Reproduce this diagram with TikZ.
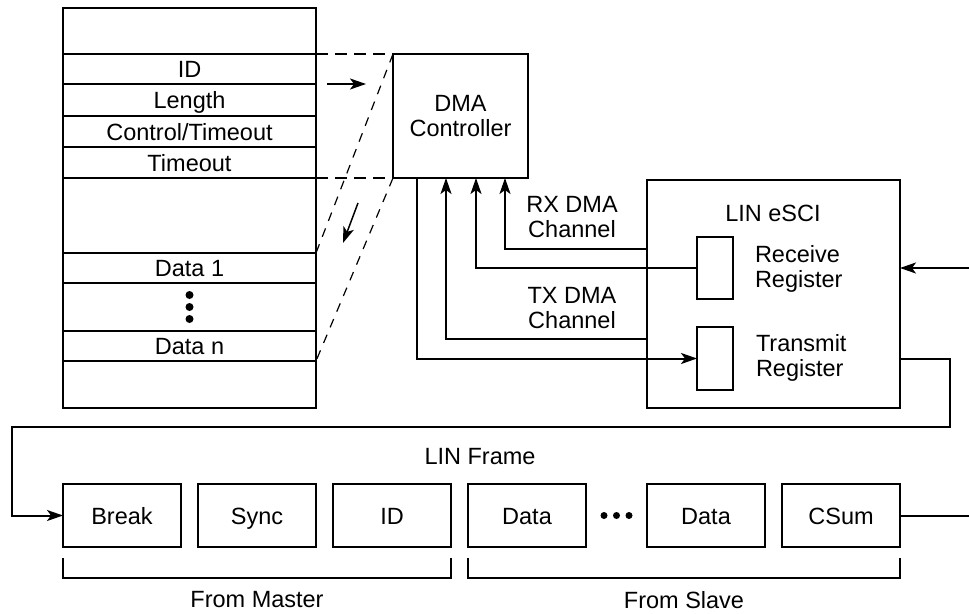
\documentclass[tikz,border=0pt]{standalone}
\usepackage{fontspec}
\setmainfont{Liberation Sans}
\usetikzlibrary{arrows.meta,positioning}

\begin{document}
\begin{tikzpicture}[
  x=1pt,y=-1pt,
  line width=2pt,
  font=\fontsize{23.5}{25}\selectfont,
  node distance=17pt,
  row/.style={draw,minimum width=253pt,inner sep=0pt,outer sep=0pt,text height=17pt,text depth=0pt},
  box/.style={draw,inner sep=0pt,outer sep=0pt},
  reg/.style={draw,minimum width=36pt,minimum height=62pt,inner sep=0pt,outer sep=0pt},
  fbox/.style={draw,minimum width=118pt,minimum height=63pt,inner sep=0pt,outer sep=0pt,text height=17pt,text depth=0pt},
  txt/.style={inner sep=0pt,outer sep=0pt,align=center},
  ar/.style={-{Stealth[length=16pt,width=11pt,inset=4pt]}},
  dsh/.style={dash pattern=on 12pt off 7pt},
  dshthin/.style={line width=1.2pt,dash pattern=on 9pt off 8pt}
]
\useasboundingbox (0,0) rectangle (969,613);

% memory layout
\node[row,minimum height=46pt] (mtop) at (189.5,31) {};
\node[row,minimum height=30pt,below=0pt of mtop] (mid) {ID};
\node[row,minimum height=32pt,below=0pt of mid] (mlen) {Length};
\node[row,minimum height=31pt,below=0pt of mlen] (mctl) {Control/Timeout};
\node[row,minimum height=31pt,below=0pt of mctl] (mtmo) {Timeout};
\node[row,minimum height=75pt,below=0pt of mtmo] (mgap) {};
\node[row,minimum height=30pt,below=0pt of mgap] (md1) {Data 1};
\node[row,minimum height=48pt,below=0pt of md1] (mdots) {};
\node[row,minimum height=30pt,below=0pt of mdots] (mdn) {Data n};
\node[row,minimum height=47pt,below=0pt of mdn] (mbot) {};
\foreach \d in {-12,0,12}
  \fill ([yshift=\d pt]mdots.center) circle (4pt);

% DMA controller
\node[box,minimum width=135pt,minimum height=124pt,align=center] (dma) at (460.5,116) {DMA\\Controller};
\draw[dsh] (mid.north east) -- (dma.north west);
\draw[dsh] (mtmo.south east) -- (dma.south west);
\draw[dshthin] (dma.north west) -- (md1.north east);
\draw[dshthin] (dma.south west) -- (mdn.south east);
\draw[ar] ([xshift=11pt]mid.south east) -- ([xshift=50pt]mid.south east);
\draw[ar,line width=1.5pt] ([xshift=42pt,yshift=-25pt]mgap.north east) -- ([xshift=27pt,yshift=-65pt]mgap.north east);

% LIN eSCI
\node[box,minimum width=253pt,minimum height=228pt] (esci) at (773.5,294) {};
\node[txt] (esciname) at (773,213) {LIN eSCI};
\node[reg] (rreg) at (715,268) {};
\node[reg,minimum height=63pt] (treg) at (715,358.5) {};
\node[txt,align=left,anchor=west] (rregtxt) at (755,269) {Receive\\Register};
\node[txt,align=left,anchor=west] (tregtxt) at (756,358) {Transmit\\Register};
\node[txt] (rxlbl) at (572,217) {RX DMA\\Channel};
\node[txt] (txlbl) at (572,308) {TX DMA\\Channel};

% DMA channels
\draw[ar] ([xshift=-43.5pt]dma.south) |- (treg.west);
\draw[ar] ([yshift=-45pt]esci.west) -| ([xshift=-14.5pt]dma.south);
\draw[ar] (rreg.west) -| ([xshift=15.5pt]dma.south);
\draw[ar] ([yshift=45pt]esci.west) -| ([xshift=44.5pt]dma.south);

% LIN frame
\node[txt] (frame) at (480,457) {LIN Frame};
\node[fbox] (brk) at (122,515.5) {Break};
\node[fbox,right=of brk] (sync) {Sync};
\node[fbox,right=of sync] (fid) {ID};
\node[fbox,right=of fid] (fd1) {Data};
\node[fbox,right=61pt of fd1] (fdn) {Data};
\node[fbox,right=of fdn] (csum) {CSum};
\coordinate[right=30.5pt of fd1.east] (fdots);
\foreach \d in {-12.5,0,12.5}
  \fill ([xshift=\d pt]fdots) circle (3.5pt);

\coordinate (rxin) at (969,268);
\coordinate (txturn) at (950,427);
\coordinate (wrap) at (12,427);
\coordinate (linout) at (969,515.5);
\draw[ar] (rxin) -- (rxin -| esci.east);
\draw[ar] (treg -| esci.east) -| (txturn) -- (wrap) |- (brk.west);
\draw (csum.east) -- (linout);

% master / slave
\draw ([yshift=-11pt]brk.south west) |- ([yshift=-31pt]fid.south east) -- ([yshift=-11pt]fid.south east);
\draw ([yshift=-11pt]fd1.south west) |- ([yshift=-31pt]csum.south east) -- ([yshift=-11pt]csum.south east);
\node[txt] (master) at (257,600) {From Master};
\node[txt] (slave) at (684,600) {From Slave};
\end{tikzpicture}
\end{document}
